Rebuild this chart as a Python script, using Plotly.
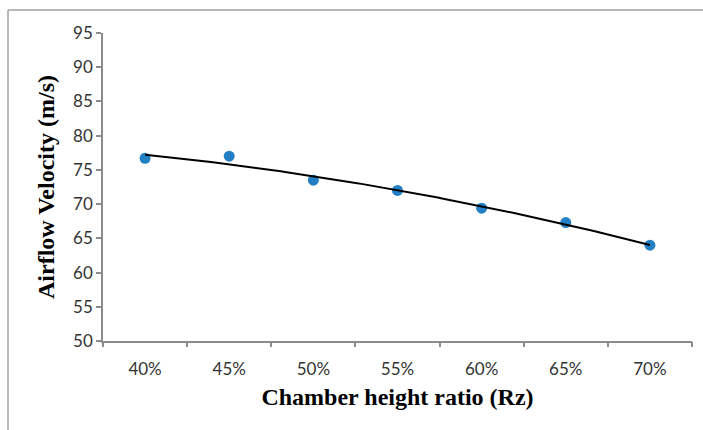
import numpy as np
import plotly.graph_objects as go

# Chamber height ratio categories and measured airflow velocity
categories = ["40%", "45%", "50%", "55%", "60%", "65%", "70%"]
velocity = [76.7, 77.0, 73.5, 72.0, 69.4, 67.3, 64.0]
y_ticks = [50, 55, 60, 65, 70, 75, 80, 85, 90, 95]

W, H = 703, 430
ML, MR, MT, MB = 103, 11, 33, 89

idx = np.arange(len(categories))
# second-order polynomial trendline through the measurements
coef = np.polyfit(idx, velocity, 2)
xs = np.linspace(idx[0], idx[-1], 120)
ys = np.polyval(coef, xs)

fig = go.Figure()
fig.add_trace(go.Scatter(
    x=idx, y=velocity, mode="markers",
    marker=dict(size=11, color="#2480C4"),
    showlegend=False, hoverinfo="skip"))
fig.add_trace(go.Scatter(
    x=xs, y=ys, mode="lines",
    line=dict(color="black", width=2),
    showlegend=False, hoverinfo="skip"))

tick_font = dict(family="Lato, Open Sans, sans-serif", size=17, color="#333333")
title_font = dict(family="Liberation Serif, Times New Roman, serif", size=24, color="black")

fig.update_layout(
    width=W, height=H,
    margin=dict(l=ML, r=MR, t=MT, b=MB),
    paper_bgcolor="white", plot_bgcolor="white",
    xaxis=dict(
        range=[-0.5, len(categories) - 0.5],
        tickvals=list(idx), ticktext=categories,
        ticks="", showgrid=False, zeroline=False,
        showline=True, linecolor="#8C8C8C", linewidth=1.5,
        tickfont=tick_font, ticklabelstandoff=12,
        title=dict(text="<b>Chamber height ratio (Rz)</b>", font=title_font, standoff=10),
    ),
    xaxis2=dict(
        overlaying="x", matches="x", side="bottom",
        range=[-0.5, len(categories) - 0.5],
        tickvals=list(np.arange(-0.5, len(categories), 1.0)),
        ticktext=[""] * (len(categories) + 1),
        ticks="outside", ticklen=5, tickwidth=1.5, tickcolor="#8C8C8C",
        showgrid=False, zeroline=False, showline=False,
    ),
    yaxis=dict(
        range=[50, 95], tickvals=y_ticks,
        ticks="outside", ticklen=5, tickwidth=1.5, tickcolor="#8C8C8C",
        showgrid=False, zeroline=False,
        showline=True, linecolor="#8C8C8C", linewidth=1.5,
        tickfont=tick_font,
        title=dict(text="<b>Airflow Velocity (m/s)</b>", font=title_font, standoff=12),
    ),
)

# hidden trace so the boundary tick axis is drawn
fig.add_trace(go.Scatter(x=[None], y=[None], xaxis="x2", showlegend=False, hoverinfo="skip"))

# outer chart frame (top and left edges)
fx0 = (8 - ML) / (W - ML - MR)
fy0 = (H - 10 - MB) / (H - MT - MB)
fig.add_shape(type="line", xref="paper", yref="paper",
              x0=fx0, x1=1 + MR / (W - ML - MR), y0=fy0, y1=fy0,
              line=dict(color="#A0A0A0", width=1.5))
fig.add_shape(type="line", xref="paper", yref="paper",
              x0=fx0, x1=fx0, y0=fy0, y1=-MB / (H - MT - MB),
              line=dict(color="#A0A0A0", width=1.5))

fig.write_html("out.html")
